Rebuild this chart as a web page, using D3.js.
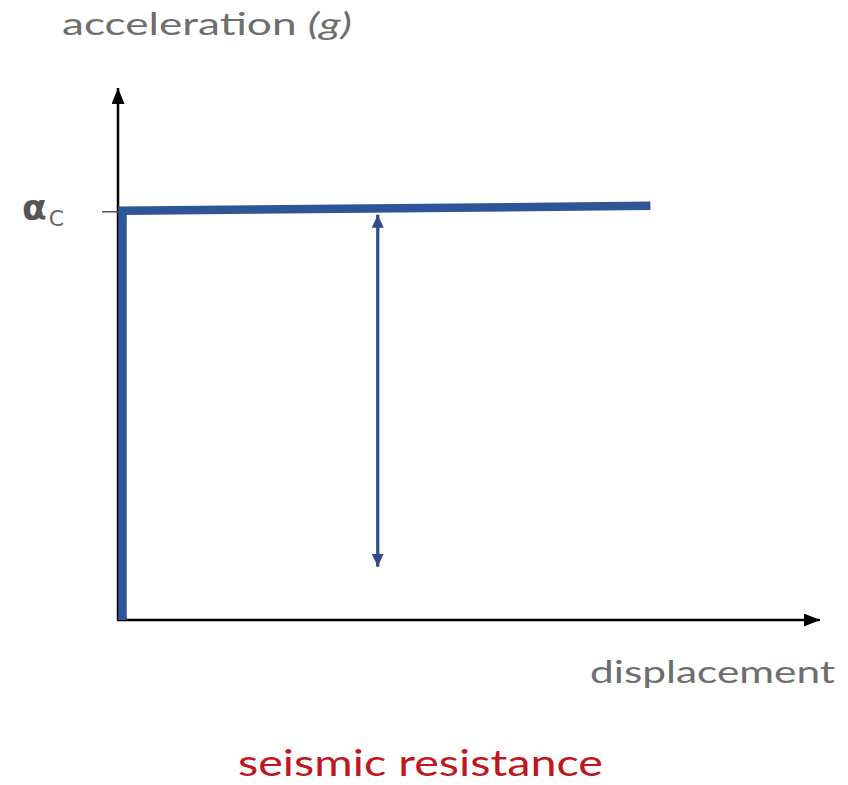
<!DOCTYPE html>
<html>
<head>
<meta charset="utf-8">
<script src="https://cdn.jsdelivr.net/npm/d3@7"></script>
<style>
  html, body { margin: 0; padding: 0; background: #fff; }
  svg { display: block; }
</style>
</head>
<body>
<svg id="chart" width="848" height="785"></svg>
<script>
// Rigid-plastic resistance curve: acceleration vs displacement
const displacement = [0, 0, 0.752];
const acceleration = [0, 1.0, 1.012];
const criticalAccel = 1.0;               // alpha_c
const demandArrow = { d: 0.37, from: 1.0, to: 0.13 };
const labels = {
  yAxis: "acceleration ",
  yUnit: "(g)",
  xAxis: "displacement",
  title: "seismic resistance",
  critical: "α",
  criticalSub: "C"
};

const svg = d3.select("#chart");
const x = d3.scaleLinear().domain([0, 1]).range([118, 820]);
const y = d3.scaleLinear().domain([0, 1.3]).range([620, 88]);

const defs = svg.append("defs");
function arrowMarker(id, color, w, h) {
  defs.append("marker")
    .attr("id", id)
    .attr("viewBox", `0 0 ${w} ${h}`)
    .attr("refX", w).attr("refY", h / 2)
    .attr("markerWidth", w).attr("markerHeight", h)
    .attr("markerUnits", "userSpaceOnUse")
    .attr("orient", "auto-start-reverse")
    .append("path")
    .attr("d", `M0,0L${w},${h / 2}L0,${h}Z`)
    .attr("fill", color);
}
arrowMarker("axisHead", "#000", 16, 13);
arrowMarker("blueHead", "#2f4b8c", 13, 12);

// axes
svg.append("line")
  .attr("x1", x(0)).attr("y1", y(0))
  .attr("x2", x(0)).attr("y2", y(1.3))
  .attr("stroke", "#000").attr("stroke-width", 2.5)
  .attr("marker-end", "url(#axisHead)");
svg.append("line")
  .attr("x1", x(0) - 1).attr("y1", y(0))
  .attr("x2", x(1)).attr("y2", y(0))
  .attr("stroke", "#000").attr("stroke-width", 2.5)
  .attr("marker-end", "url(#axisHead)");

// alpha_c tick
svg.append("line")
  .attr("x1", x(0) - 16).attr("x2", x(0))
  .attr("y1", y(criticalAccel) + 1).attr("y2", y(criticalAccel) + 1)
  .attr("stroke", "#555").attr("stroke-width", 1.5);

// resistance curve
const pts = displacement.map((d, i) => [d, acceleration[i]]);
svg.append("path")
  .datum(pts)
  .attr("d", d3.line().x(p => x(p[0]) + 4.5).y(p => y(p[1])))
  .attr("fill", "none")
  .attr("stroke", "#2e5597")
  .attr("stroke-width", 8.5)
  .attr("stroke-linejoin", "miter")
  .attr("stroke-linecap", "butt");

// demand double arrow
svg.append("line")
  .attr("x1", x(demandArrow.d)).attr("x2", x(demandArrow.d))
  .attr("y1", y(demandArrow.from) + 4).attr("y2", y(demandArrow.to))
  .attr("stroke", "#2f4b8c").attr("stroke-width", 3.2)
  .attr("marker-start", "url(#blueHead)")
  .attr("marker-end", "url(#blueHead)");

const font = "'Century Gothic', 'URW Gothic', 'Lato', 'DejaVu Sans', sans-serif";

const yl = svg.append("text")
  .attr("x", 62).attr("y", 35)
  .attr("font-family", font).attr("font-size", 31)
  .attr("fill", "#6e6e6e")
  .attr("textLength", 290).attr("lengthAdjust", "spacingAndGlyphs");
yl.append("tspan").text(labels.yAxis);
yl.append("tspan").attr("font-style", "italic").text(labels.yUnit);

svg.append("text")
  .attr("x", 590).attr("y", 683)
  .attr("font-family", font).attr("font-size", 31)
  .attr("fill", "#6e6e6e")
  .attr("textLength", 245).attr("lengthAdjust", "spacingAndGlyphs")
  .text(labels.xAxis);

svg.append("text")
  .attr("x", 238).attr("y", 776)
  .attr("font-family", font).attr("font-size", 36)
  .attr("fill", "#c0161e")
  .attr("textLength", 365).attr("lengthAdjust", "spacingAndGlyphs")
  .text(labels.title);

const crit = svg.append("text")
  .attr("x", 22).attr("y", y(criticalAccel) + 9)
  .attr("font-family", "'DejaVu Sans', sans-serif")
  .attr("fill", "#555");
crit.append("tspan").attr("font-size", 36).attr("font-weight", "bold").text(labels.critical);
crit.append("tspan").attr("font-size", 22).attr("dy", 6).attr("dx", 2).attr("fill", "#666").text(labels.criticalSub);
</script>
</body>
</html>
